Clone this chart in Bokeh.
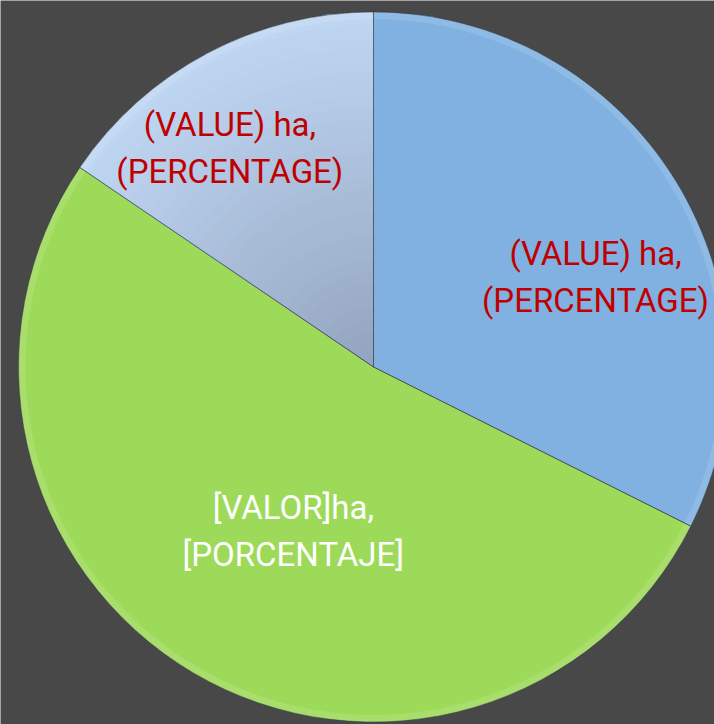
import numpy as np
from bokeh.plotting import figure
from bokeh.models import Range1d, ColumnDataSource
from bokeh.core.properties import value
from bokeh.embed import file_html
from bokeh.resources import INLINE

# ---- data ----
categories = ["Azul", "Verde", "Azul claro"]
values = [32.4, 52.1, 15.5]
labels = ["(VALUE) ha,\n(PERCENTAGE)", "[VALOR]ha,\n[PORCENTAJE]", "(VALUE) ha,\n(PERCENTAGE)"]
colors = ["#80B1E1", "#9EDA59", "#B9D0EE"]
label_colors = ["#C00000", "#FFFFFF", "#C00000"]

# ---- layout / style ----
W, H = 714, 724
cx, cy, R = 373.0, 357.5, 355.0
label_rfrac = [0.675, 0.515, 0.737]
label_dang = [-9.6, 4.4, 5.4]
BG = "#484848"

frac = np.array(values, dtype=float) / sum(values)
cum = np.concatenate([[0.0], np.cumsum(frac)])
start = np.pi / 2 - cum[:-1] * 2 * np.pi
end = np.pi / 2 - cum[1:] * 2 * np.pi

p = figure(width=W, height=H, x_range=Range1d(0, W), y_range=Range1d(0, H),
           output_backend="svg", toolbar_location=None, min_border=0)
p.axis.visible = False
p.grid.visible = False
p.outline_line_color = None
p.background_fill_color = BG
p.border_fill_color = BG

src = ColumnDataSource(dict(x=[cx] * 3, y=[cy] * 3, start=start, end=end, color=colors))
p.wedge(x="x", y="y", radius=R, start_angle="start", end_angle="end", direction="clock",
        fill_color="color", line_color=None, source=src)

# gradient on the light-blue slice (radial steps, lighter outside)
outer = np.array([0xBF, 0xD6, 0xF2], dtype=float)
inner = np.array([0x93, 0xA4, 0xC0], dtype=float)
N = 30
for k in range(N):
    t = k / (N - 1)
    c = outer * (1 - t) + inner * t
    col = "#%02x%02x%02x" % tuple(int(round(v)) for v in c)
    p.wedge(x=cx, y=cy, radius=R * (1 - k / N), start_angle=start[2], end_angle=end[2],
            direction="clock", fill_color=col, line_color=None)

# soft bevel highlight along the rim
p.annular_wedge(x="x", y="y", inner_radius=R - 7, outer_radius=R, start_angle="start",
                end_angle="end", direction="clock", fill_color="white", fill_alpha=0.12,
                line_color=None, source=src)

# slice borders
p.wedge(x="x", y="y", radius=R, start_angle="start", end_angle="end", direction="clock",
        fill_color=None, line_color="#2a3444", line_alpha=0.45, line_width=1, source=src)

mid = (start + end) / 2 + np.radians(label_dang)
lx = cx + np.array(label_rfrac) * R * np.cos(mid)
ly = cy + np.array(label_rfrac) * R * np.sin(mid)
lsrc = ColumnDataSource(dict(x=lx, y=ly, text=labels, color=label_colors))
p.text(x="x", y="y", text="text", text_color="color", source=lsrc,
       text_font=value("Roboto"), text_font_size="33px",
       text_align="center", text_baseline="middle", text_line_height=1.2)

html = file_html(p, INLINE)
html = html.replace("<body>", '<body style="background:%s">' % BG, 1)
open("out.html", "w").write(html)
